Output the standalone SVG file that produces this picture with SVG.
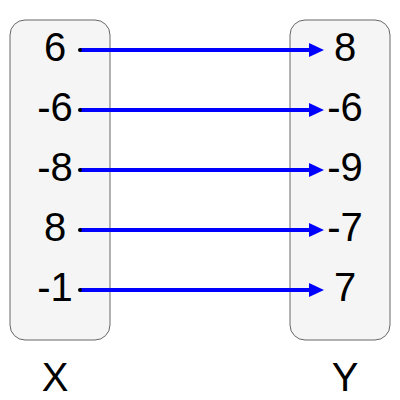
<svg xmlns="http://www.w3.org/2000/svg" width="400" height="400" viewBox="0 0 400 400">
<style>
.box{fill:#f5f5f5;stroke:#666666;stroke-width:1}
.t{font-family:"Liberation Sans",Arial,sans-serif;font-size:40px;fill:#000000;text-anchor:middle}
.e{stroke:#0000ff;stroke-width:4;fill:none}
.d{fill:#000000}
</style>
<defs>
<marker id="ah" markerUnits="userSpaceOnUse" markerWidth="16" markerHeight="16" refX="0" refY="7" orient="auto" viewBox="0 0 16 14">
<path d="M0,0 L15,7 L0,14 Z" fill="#0000ff"/>
</marker>
</defs>
<g id="setX">
<rect class="box" x="10" y="20" width="100" height="320" rx="15" ry="15"/>
<text class="t" x="55" y="61">6</text>
<text class="t" x="55" y="121">-6</text>
<text class="t" x="55" y="181">-8</text>
<text class="t" x="55" y="241">8</text>
<text class="t" x="55" y="301">-1</text>
</g>
<g id="setY">
<rect class="box" x="290" y="20" width="100" height="320" rx="15" ry="15"/>
<text class="t" x="345" y="61">8</text>
<text class="t" x="345" y="121">-6</text>
<text class="t" x="345" y="181">-9</text>
<text class="t" x="345" y="241">-7</text>
<text class="t" x="345" y="301">7</text>
</g>
<g id="labelX"><text class="t" x="55" y="391">X</text></g>
<g id="labelY"><text class="t" x="345" y="391">Y</text></g>
<g id="connectors">
<path class="e" d="M80,50 H309" marker-end="url(#ah)"/>
<path class="e" d="M80,110 H309" marker-end="url(#ah)"/>
<path class="e" d="M80,170 H309" marker-end="url(#ah)"/>
<path class="e" d="M80,230 H309" marker-end="url(#ah)"/>
<path class="e" d="M80,290 H309" marker-end="url(#ah)"/>
<circle class="d" cx="80" cy="50" r="2"/>
<circle class="d" cx="80" cy="110" r="2"/>
<circle class="d" cx="80" cy="170" r="2"/>
<circle class="d" cx="80" cy="230" r="2"/>
<circle class="d" cx="80" cy="290" r="2"/>
</g>
</svg>
